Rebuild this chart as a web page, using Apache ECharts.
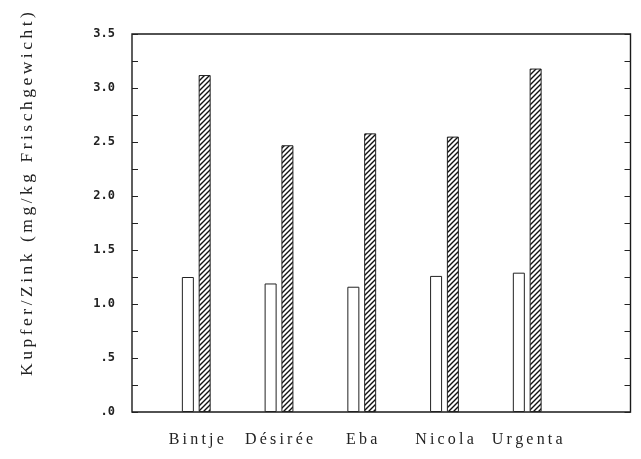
<!DOCTYPE html>
<html>
<head>
<meta charset="utf-8">
<script src="https://cdn.jsdelivr.net/npm/echarts@6/dist/echarts.min.js"></script>
<style>html,body{margin:0;padding:0;background:#fff}#c{width:641px;height:459px}</style>
</head>
<body>
<div id="c"></div>
<script>
const categories = ['Bintje', 'Désirée', 'Eba', 'Nicola', 'Urgenta'];
const kupfer = [1.25, 1.19, 1.16, 1.26, 1.29];
const zink = [3.12, 2.47, 2.58, 2.55, 3.18];
const yTicks = [0, 0.5, 1.0, 1.5, 2.0, 2.5, 3.0, 3.5];
const yTickLabels = ['.0', '.5', '1.0', '1.5', '2.0', '2.5', '3.0', '3.5'];
const yTitle = 'Kupfer/Zink (mg/kg Frischgewicht)';

function hatch() {
  const c = document.createElement('canvas');
  c.width = 5; c.height = 5;
  const g = c.getContext('2d');
  g.fillStyle = '#fff'; g.fillRect(0, 0, 5, 5);
  g.strokeStyle = '#111'; g.lineWidth = 1.4;
  g.beginPath();
  g.moveTo(-1, 6); g.lineTo(6, -1);
  g.moveTo(-1, 1); g.lineTo(1, -1);
  g.moveTo(4, 6); g.lineTo(6, 4);
  g.stroke();
  return c;
}
const spaced = (s, sp) => s.split('').join(sp);

const chart = echarts.init(document.getElementById('c'), null, {renderer: 'canvas'});
const FRAME = {left: 132, right: 10.5, top: 34, bottom: 47};
const BARS = {left: 154.9, right: 72.4, top: 34, bottom: 47};
const yLabelFmt = v => {
  const i = yTicks.findIndex(t => Math.abs(t - v) < 1e-6);
  return i >= 0 ? yTickLabels[i] : '';
};
chart.setOption({
  animation: false,
  backgroundColor: '#fff',
  grid: [
    Object.assign({show: true, borderColor: '#1a1a1a', borderWidth: 1.4, backgroundColor: 'transparent'}, FRAME),
    BARS
  ],
  xAxis: [
    {gridIndex: 0, type: 'value', min: 0, max: 1, show: false},
    {gridIndex: 1, type: 'category', data: categories,
     axisLine: {show: false}, axisTick: {show: false}, splitLine: {show: false},
     axisLabel: {interval: 0, hideOverlap: false, margin: 20, color: '#222',
       fontFamily: 'Liberation Serif, DejaVu Serif, serif', fontSize: 16,
       formatter: v => spaced(v, '\u2009')}}
  ],
  yAxis: [
    {gridIndex: 0, type: 'value', min: 0, max: 3.5, interval: 0.25, position: 'left',
     axisLine: {show: false}, splitLine: {show: false},
     axisTick: {show: true, inside: true, length: 6, lineStyle: {color: '#222', width: 1}},
     axisLabel: {margin: 17, color: '#222', fontFamily: 'DejaVu Sans Mono, monospace', fontWeight: 'bold', fontSize: 12,
       formatter: yLabelFmt}},
    {gridIndex: 0, type: 'value', min: 0, max: 3.5, interval: 0.25, position: 'right',
     axisLine: {show: false}, splitLine: {show: false}, axisLabel: {show: false},
     axisTick: {show: true, inside: true, length: 6, lineStyle: {color: '#222', width: 1}}},
    {gridIndex: 1, type: 'value', min: 0, max: 3.5, show: false}
  ],
  graphic: [{
    type: 'text', x: 27, y: 194, rotation: Math.PI / 2,
    style: {text: spaced(yTitle, '\u2009'), fill: '#222', font: '17.5px "Liberation Serif", "DejaVu Serif", serif',
      textAlign: 'center', textVerticalAlign: 'middle'}
  }],
  series: [
    {type: 'bar', name: 'Kupfer', xAxisIndex: 1, yAxisIndex: 2, data: kupfer, barWidth: 12, barGap: '40%',
     itemStyle: {color: '#fff', borderColor: '#222', borderWidth: 1}},
    {type: 'bar', name: 'Zink', xAxisIndex: 1, yAxisIndex: 2, data: zink, barWidth: 12, barGap: '40%',
     itemStyle: {color: {image: hatch(), repeat: 'repeat'}, borderColor: '#222', borderWidth: 1}}
  ]
});
</script>
</body>
</html>
